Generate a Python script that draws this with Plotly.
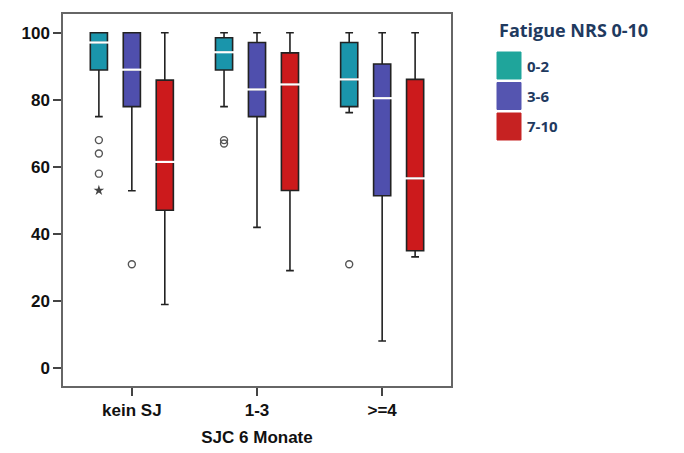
import plotly.graph_objects as go

categories = ["kein SJ", "1-3", ">=4"]
groups = ["0-2", "3-6", "7-10"]
colors = ["#1a95ab", "#4f4fad", "#cc1a1c"]
legend_colors = ["#1fa59b", "#5555b0", "#c62222"]

# box statistics per fatigue group (values per SJC category)
lower_02 = [75, 78, 76.2]
q1_02 = [88.9, 88.9, 78]
median_02 = [97.1, 94.2, 86.1]
q3_02 = [100, 98.5, 97.1]
upper_02 = [100, 100, 100]

lower_36 = [52.9, 42, 8.1]
q1_36 = [78, 75, 51.4]
median_36 = [89, 83.1, 80.5]
q3_36 = [100, 97.1, 90.7]
upper_36 = [100, 100, 100]

lower_710 = [19, 29.1, 33.2]
q1_710 = [47.1, 53, 35]
median_710 = [61.5, 84.6, 56.6]
q3_710 = [85.9, 94, 86.1]
upper_710 = [100, 100, 100]

# outliers
out_02_cat = ["kein SJ", "kein SJ", "kein SJ", "1-3", "1-3", ">=4"]
out_02_val = [68, 64, 58, 67, 68, 31]
ext_02_cat = ["kein SJ"]
ext_02_val = [53]
out_36_cat = ["kein SJ"]
out_36_val = [31]

stats = [
    (lower_02, q1_02, median_02, q3_02, upper_02),
    (lower_36, q1_36, median_36, q3_36, upper_36),
    (lower_710, q1_710, median_710, q3_710, upper_710),
]

fig = go.Figure()
for g, col, (lo, q1, med, q3, up) in zip(groups, colors, stats):
    fig.add_trace(go.Box(
        x=categories, q1=q1, median=med, q3=q3, lowerfence=lo, upperfence=up,
        name=g, offsetgroup=g, fillcolor=col,
        line=dict(color="#222222", width=1.6), whiskerwidth=0.45,
        boxpoints=False, showlegend=False, hoverinfo="skip",
    ))
    fig.add_trace(go.Scatter(
        x=categories, y=med, mode="markers", offsetgroup=g,
        marker=dict(symbol="line-ew", size=15, line=dict(color="white", width=2.2)),
        showlegend=False, hoverinfo="skip",
    ))

fig.add_trace(go.Scatter(
    x=out_02_cat, y=out_02_val, mode="markers", offsetgroup="0-2",
    marker=dict(symbol="circle-open", size=7, line=dict(color="#555", width=1.4), color="#555"),
    showlegend=False, hoverinfo="skip"))
fig.add_trace(go.Scatter(
    x=ext_02_cat, y=ext_02_val, mode="markers", offsetgroup="0-2",
    marker=dict(symbol="star", size=8, color="#444", line=dict(width=0)),
    showlegend=False, hoverinfo="skip"))
fig.add_trace(go.Scatter(
    x=out_36_cat, y=out_36_val, mode="markers", offsetgroup="3-6",
    marker=dict(symbol="circle-open", size=7, line=dict(color="#555", width=1.4), color="#555"),
    showlegend=False, hoverinfo="skip"))

# manual legend (pixel positions converted to paper coords below)
navy = "#1f3a5f"
W, H = 684, 453
ml, mr, mt, mb = 63, 233, 14, 67
pw, ph = W - ml - mr, H - mt - mb


def px(x):
    return (x - ml) / pw


def py(y):
    return (H - y - mb) / ph


fig.add_annotation(x=px(497), y=py(30), xref="paper", yref="paper", text="<b>Fatigue NRS 0-10</b>",
                   showarrow=False, xanchor="left", yanchor="middle",
                   font=dict(family="Open Sans", size=18, color=navy))
for i, (g, c) in enumerate(zip(groups, legend_colors)):
    y0 = 52 + i * 30.5
    fig.add_shape(type="rect", xref="paper", yref="paper", x0=px(497), x1=px(521),
                  y0=py(y0), y1=py(y0 + 27), fillcolor=c, line=dict(color=c, width=1))
    fig.add_annotation(x=px(525), y=py(y0 + 13.5), xref="paper", yref="paper", text=f"<b>{g}</b>",
                       showarrow=False, xanchor="left", yanchor="middle",
                       font=dict(family="Open Sans", size=15, color=navy))

axis_font = dict(family="Liberation Sans", size=17, color="#111", weight="bold")
fig.update_layout(
    width=W, height=H, margin=dict(l=ml, r=mr, t=mt, b=mb),
    paper_bgcolor="white", plot_bgcolor="white",
    boxmode="group", boxgap=0.21, boxgroupgap=0.48,
    scattermode="group", scattergap=0.21,
    showlegend=False,
    xaxis=dict(type="category", categoryarray=categories, range=[-0.55, 2.55],
               showline=True, mirror=True, linecolor="#666", linewidth=1.5,
               ticks="outside", ticklen=8, tickcolor="#444", tickwidth=1.5,
               tickfont=axis_font, showgrid=False, zeroline=False, automargin=False,
               title=dict(text="SJC 6 Monate", font=axis_font, standoff=12)),
    yaxis=dict(range=[-5.3, 105.6], tickvals=[0, 20, 40, 60, 80, 100],
               showline=True, mirror=True, linecolor="#666", linewidth=1.5,
               ticks="outside", ticklen=8, tickcolor="#444", tickwidth=1.5,
               tickfont=axis_font, showgrid=False, zeroline=False, automargin=False),
)

fig.write_html("out.html")
